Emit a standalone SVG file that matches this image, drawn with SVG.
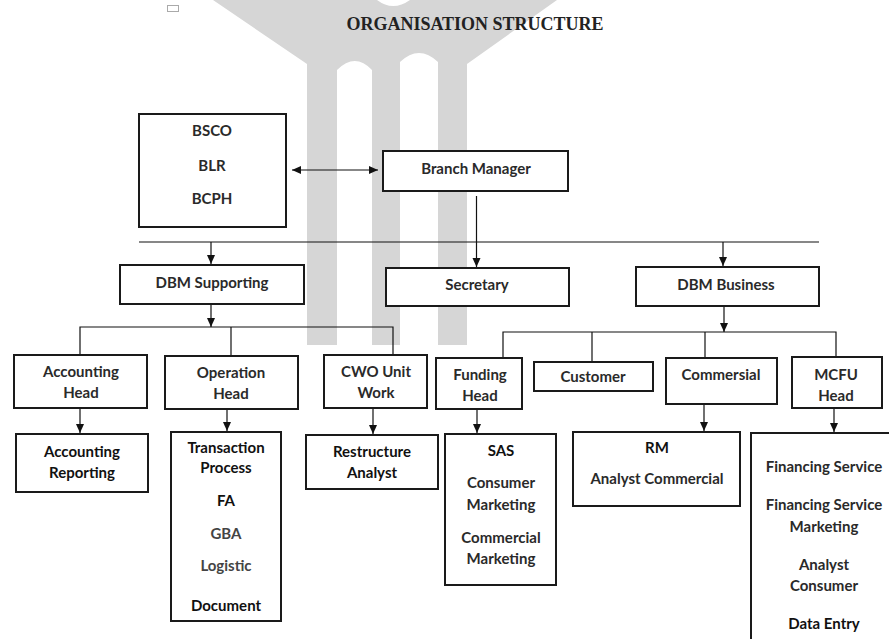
<svg xmlns="http://www.w3.org/2000/svg" width="889" height="639" viewBox="0 0 889 639">
<style>
.box{fill:#fff;stroke:#1a1a1a;stroke-width:2}
.t{font-family:Lato,"Liberation Sans",sans-serif;font-weight:bold;font-size:15px;fill:#2a2a2a;text-anchor:middle}
.d{fill:#111}
.g{fill:#444}
.c{stroke:#111;stroke-width:1.2;fill:none}
.a{marker-end:url(#ah)}
.wm{fill:#d6d6d6}
</style>
<defs>
<marker id="ah" markerUnits="userSpaceOnUse" markerWidth="10" markerHeight="10" refX="9" refY="4" orient="auto-start-reverse" viewBox="0 0 10 8">
<path d="M0,0 L9,4 L0,8 z" fill="#111"/>
</marker>
</defs>
<rect width="889" height="639" fill="#fff"/>
<g id="watermark">
<path class="wm" d="M213,0 L377,0 Q393,12 410,0 L557,0 L467,64 L467,345 L438,345 L438,62 Q419,44 400,62 L400,345 L372,345 L372,70 Q355,52 337,70 L337,345 L307,345 L307,64 Z"/>
</g>
<rect x="167.5" y="5.5" width="11" height="6" fill="none" stroke="#aaa" stroke-width="1"/>
<text x="475" y="30" font-family="'Liberation Serif',serif" font-weight="bold" font-size="18" fill="#222" text-anchor="middle">ORGANISATION STRUCTURE</text>

<g id="connectors">
<line class="c" x1="292" y1="170" x2="378" y2="170" marker-start="url(#ah)" marker-end="url(#ah)"/>
<line class="c a" x1="476.5" y1="196" x2="476.5" y2="267"/>
<line class="c" x1="139" y1="242" x2="819" y2="242"/>
<line class="c a" x1="211" y1="242" x2="211" y2="264"/>
<line class="c a" x1="723" y1="242" x2="723" y2="266"/>
<line class="c a" x1="211" y1="304" x2="211" y2="327"/>
<polyline class="c" points="80,355 80,327 393,327 393,355"/>
<line class="c" x1="231" y1="327" x2="231" y2="355"/>
<line class="c a" x1="724" y1="306" x2="724" y2="332"/>
<polyline class="c" points="503,357 503,332 836,332 836,357"/>
<line class="c" x1="592" y1="332" x2="592" y2="362"/>
<line class="c" x1="705" y1="332" x2="705" y2="358"/>
<line class="c a" x1="80" y1="408" x2="80" y2="433"/>
<line class="c a" x1="227" y1="409" x2="227" y2="431"/>
<line class="c a" x1="373" y1="408" x2="373" y2="434"/>
<line class="c a" x1="477" y1="409" x2="477" y2="433"/>
<line class="c a" x1="704" y1="404" x2="704" y2="431"/>
<line class="c a" x1="834" y1="408" x2="834" y2="432"/>
</g>

<g id="bscobox">
<rect class="box" x="139" y="114" width="147" height="113"/>
<text class="t" x="212" y="136">BSCO</text>
<text class="t" x="212" y="171">BLR</text>
<text class="t" x="212" y="204">BCPH</text>
</g>
<g id="branch-manager">
<rect class="box" x="383" y="151" width="185" height="40"/>
<text class="t" x="476" y="174">Branch Manager</text>
</g>
<g id="dbm-supporting">
<rect class="box" x="120" y="265" width="184" height="39"/>
<text class="t" x="212" y="288">DBM Supporting</text>
</g>
<g id="secretary">
<rect class="box" x="386" y="268" width="183" height="38"/>
<text class="t" x="477" y="290">Secretary</text>
</g>
<g id="dbm-business">
<rect class="box" x="636" y="267" width="183" height="39"/>
<text class="t" x="726" y="290">DBM Business</text>
</g>

<g id="accounting-head">
<rect class="box" x="14" y="355" width="133" height="53"/>
<text class="t" x="81" y="377">Accounting</text>
<text class="t" x="81" y="398">Head</text>
</g>
<g id="operation-head">
<rect class="box" x="165" y="356" width="133" height="53"/>
<text class="t" x="231" y="378">Operation</text>
<text class="t" x="231" y="399">Head</text>
</g>
<g id="cwo-unit-work">
<rect class="box" x="324" y="355" width="103" height="53"/>
<text class="t" x="376" y="377">CWO Unit</text>
<text class="t" x="376" y="398">Work</text>
</g>
<g id="funding-head">
<rect class="box" x="436" y="358" width="86" height="51"/>
<text class="t" x="480" y="380">Funding</text>
<text class="t" x="480" y="401">Head</text>
</g>
<g id="customer">
<rect class="box" x="534" y="362" width="119" height="29"/>
<text class="t" x="593" y="382">Customer</text>
</g>
<g id="commersial">
<rect class="box" x="666" y="358" width="111" height="46"/>
<text class="t" x="721" y="380">Commersial</text>
</g>
<g id="mcfu-head">
<rect class="box" x="792" y="357" width="90" height="51"/>
<text class="t" x="836" y="380">MCFU</text>
<text class="t" x="836" y="401">Head</text>
</g>

<g id="accounting-reporting">
<rect class="box" x="16" y="434" width="132" height="58"/>
<text class="t d" x="82" y="457">Accounting</text>
<text class="t d" x="82" y="478">Reporting</text>
</g>
<g id="operation-units">
<rect class="box" x="171" y="432" width="110" height="189"/>
<text class="t d" x="226" y="453">Transaction</text>
<text class="t d" x="226" y="473">Process</text>
<text class="t d" x="226" y="506">FA</text>
<text class="t g" x="226" y="539">GBA</text>
<text class="t g" x="226" y="571">Logistic</text>
<text class="t d" x="226" y="611">Document</text>
</g>
<g id="restructure-analyst">
<rect class="box" x="306" y="435" width="132" height="54"/>
<text class="t d" x="372" y="457">Restructure</text>
<text class="t d" x="372" y="478">Analyst</text>
</g>
<g id="funding-units">
<rect class="box" x="445" y="434" width="111" height="151"/>
<text class="t d" x="501" y="456">SAS</text>
<text class="t" x="501" y="488">Consumer</text>
<text class="t" x="501" y="510">Marketing</text>
<text class="t" x="501" y="543">Commercial</text>
<text class="t" x="501" y="564">Marketing</text>
</g>
<g id="commercial-units">
<rect class="box" x="573" y="432" width="167" height="74"/>
<text class="t d" x="657" y="453">RM</text>
<text class="t" x="657" y="484">Analyst Commercial</text>
</g>
<g id="mcfu-units">
<rect class="box" x="751" y="433" width="160" height="220"/>
<text class="t" x="824" y="472">Financing Service</text>
<text class="t" x="824" y="510">Financing Service</text>
<text class="t" x="824" y="532">Marketing</text>
<text class="t" x="824" y="570">Analyst</text>
<text class="t" x="824" y="591">Consumer</text>
<text class="t d" x="824" y="629">Data Entry</text>
</g>
</svg>
